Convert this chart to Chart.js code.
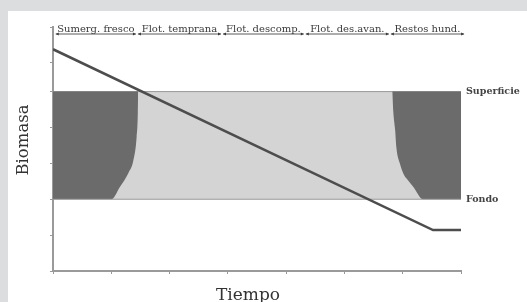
<!DOCTYPE html>
<html>
<head>
<meta charset="utf-8">
<script src="https://cdn.jsdelivr.net/npm/chart.js@4/dist/chart.umd.min.js"></script>
<style>
  html, body { margin: 0; padding: 0; background: #dcdddf; }
  .panel { position: absolute; left: 8px; top: 11px; width: 519px; height: 291px; background: #fff; }
</style>
</head>
<body>
<div class="panel"><canvas id="chart"></canvas></div>
<script>
// datos
const biomassX = [0, 6.52, 7];
const biomassY = [6.18, 1.14, 1.14];

const surfaceLevel = 5;
const bottomLevel = 2;

// borde de las zonas oscuras (sumergido / hundido)
const darkLeftX = [0, 1.0, 1.15, 1.29, 1.38, 1.435, 1.455, 1.46];
const darkLeftY = [2, 2, 2.35, 2.72, 3.09, 3.74, 4.4, 5];
const darkRightX = [5.82, 5.84, 5.87, 5.89, 5.95, 6.01, 6.09, 6.18, 6.35, 7];
const darkRightY = [5, 4.4, 3.93, 3.46, 3.0, 2.72, 2.53, 2.35, 2, 2];

const phaseNames = ["Sumerg. fresco", "Flot. temprana", "Flot. descomp.", "Flot. des.avan.", "Restos hund."];
const phaseBounds = [0.03, 1.44, 2.9, 4.32, 5.78, 7.07];

const xTickValues = [0, 1, 2, 3, 4, 5, 6, 7];
const yTickValues = [0, 1, 2, 3, 4, 5, 5.8, 6.8];

const pts = (xs, ys) => xs.map((x, i) => ({ x: x, y: ys[i] }));

const annotations = {
  id: "annotations",
  afterDraw(chart) {
    const { ctx, chartArea, scales } = chart;
    const xs = scales.x, ys = scales.y;
    ctx.save();

    // fases arriba
    const ly = chartArea.top + 7;
    ctx.strokeStyle = "#5a5a5a";
    ctx.fillStyle = "#3a3a3a";
    ctx.lineWidth = 1;
    ctx.font = "10px 'DejaVu Serif'";
    ctx.textAlign = "center";
    ctx.textBaseline = "alphabetic";
    phaseNames.forEach((name, i) => {
      const x0 = xs.getPixelForValue(phaseBounds[i]) + 1;
      const x1 = xs.getPixelForValue(phaseBounds[i + 1]) - 1;
      ctx.beginPath();
      ctx.moveTo(x0, ly);
      ctx.lineTo(x1, ly);
      ctx.stroke();
      ctx.beginPath();
      ctx.moveTo(x0, ly); ctx.lineTo(x0 + 3, ly - 1.5); ctx.lineTo(x0 + 3, ly + 1.5); ctx.closePath();
      ctx.moveTo(x1, ly); ctx.lineTo(x1 - 3, ly - 1.5); ctx.lineTo(x1 - 3, ly + 1.5); ctx.closePath();
      ctx.fill();
      ctx.fillText(name, (x0 + x1) / 2, ly - 2);
    });

    // niveles
    ctx.font = "bold 9.5px 'DejaVu Serif'";
    ctx.textAlign = "left";
    ctx.textBaseline = "middle";
    ctx.fillStyle = "#444";
    ctx.fillText("Superficie", chartArea.right + 5, ys.getPixelForValue(surfaceLevel));
    ctx.fillText("Fondo", chartArea.right + 5, ys.getPixelForValue(bottomLevel));

    // títulos de ejes
    ctx.fillStyle = "#333";
    ctx.font = "17px 'DejaVu Serif'";
    ctx.textAlign = "center";
    ctx.textBaseline = "alphabetic";
    ctx.fillText("Tiempo", (chartArea.left + chartArea.right) / 2 - 9, chartArea.bottom + 29);
    ctx.translate(chartArea.left - 29, (chartArea.top + chartArea.bottom) / 2 - 9);
    ctx.rotate(-Math.PI / 2);
    ctx.textBaseline = "middle";
    ctx.font = "16.5px 'DejaVu Serif'";
    ctx.fillText("Biomasa", 0, 0);
    ctx.restore();
  }
};

new Chart(document.getElementById("chart"), {
  type: "scatter",
  data: {
    datasets: [
      {
        data: pts(biomassX, biomassY),
        showLine: true,
        borderColor: "#4d4d4d",
        borderWidth: 2.5,
        pointRadius: 0,
        fill: false,
        order: 0
      },
      {
        data: pts(darkLeftX, darkLeftY),
        showLine: true,
        borderWidth: 0,
        borderColor: "rgba(0,0,0,0)",
        backgroundColor: "#6b6b6b",
        cubicInterpolationMode: "monotone",
        pointRadius: 0,
        fill: { value: surfaceLevel },
        order: 1
      },
      {
        data: pts(darkRightX, darkRightY),
        showLine: true,
        borderWidth: 0,
        borderColor: "rgba(0,0,0,0)",
        backgroundColor: "#6b6b6b",
        cubicInterpolationMode: "monotone",
        pointRadius: 0,
        fill: { value: surfaceLevel },
        order: 1
      },
      {
        data: pts([0, 7], [surfaceLevel, surfaceLevel]),
        showLine: true,
        borderColor: "#9a9a9a",
        borderWidth: 1,
        backgroundColor: "#d4d4d4",
        pointRadius: 0,
        fill: { value: bottomLevel },
        order: 2
      },
      {
        data: pts([0, 7], [bottomLevel, bottomLevel]),
        showLine: true,
        borderColor: "#9a9a9a",
        borderWidth: 1,
        pointRadius: 0,
        fill: false,
        order: 0.5
      }
    ]
  },
  options: {
    responsive: true,
    maintainAspectRatio: false,
    animation: false,
    layout: { padding: { top: 16, right: 66, left: 0, bottom: 0 } },
    plugins: { legend: { display: false }, tooltip: { enabled: false } },
    scales: {
      x: {
        type: "linear",
        min: 0,
        max: 7,
        afterBuildTicks: (s) => { s.ticks = xTickValues.map((v) => ({ value: v })); },
        afterFit: (s) => { s.height = 31; },
        ticks: { display: false },
        grid: { drawOnChartArea: false, tickLength: 3, color: "#999" },
        border: { color: "#9a9a9a", width: 2 }
      },
      y: {
        type: "linear",
        min: 0,
        max: 6.8,
        afterBuildTicks: (s) => { s.ticks = yTickValues.map((v) => ({ value: v })); },
        afterFit: (s) => { s.width = 45; },
        ticks: { display: false },
        grid: { drawOnChartArea: false, tickLength: 3, color: "#999" },
        border: { color: "#9a9a9a", width: 2 }
      }
    }
  },
  plugins: [annotations]
});
</script>
</body>
</html>
